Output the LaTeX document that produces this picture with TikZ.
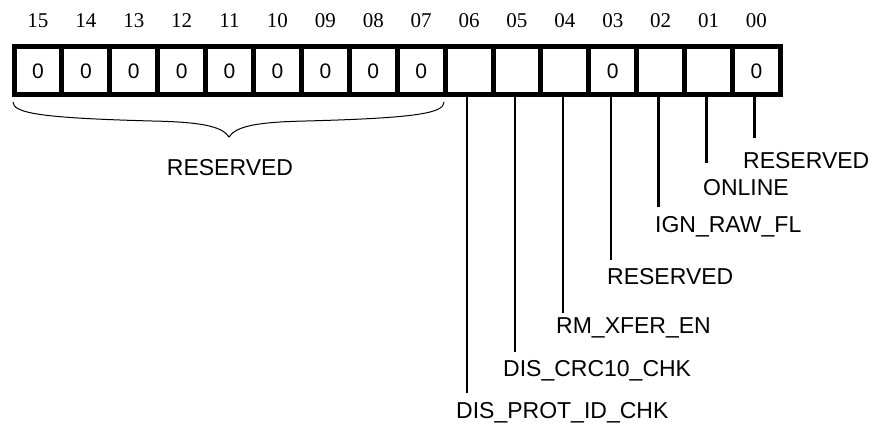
\documentclass[tikz,border=0pt]{standalone}
\usepackage{fontspec}
\setmainfont{Liberation Sans}
\newfontfamily\numfont{Liberation Serif}
\begin{document}
\begin{tikzpicture}[x=1pt,y=-1pt,
  cell/.style={draw,line width=5pt,minimum width=47.9pt,minimum height=48pt,inner sep=0pt,font=\fontsize{21}{24}\selectfont},
  bitnum/.style={inner sep=0pt,font=\numfont\fontsize{21}{24}\selectfont},
  fname/.style={inner sep=0pt,anchor=west,font=\fontsize{23}{26}\selectfont},
  lead/.style={line width=2.5pt},
  bracestyle/.style={line width=1pt}]
\useasboundingbox (0,0) rectangle (875,425);
\foreach \b/\v [count=\i from 0] in {15/0,14/0,13/0,12/0,11/0,10/0,09/0,08/0,07/0,06/{},05/{},04/{},03/0,02/{},01/{},00/0}{
  \node[cell] (c\b) at ({14+47.9*(\i+0.5)},71) {\v};
  \node[bitnum] (n\b) at ({14+47.9*(\i+0.5)},21) {\b};
}
% brace over reserved bits 15..07
\coordinate (bl) at (13,102);
\coordinate (br) at (444,102);
\coordinate (bt) at (229,137);
\draw[bracestyle] (bl) .. controls (13,113) and (40,118) .. (152,121)
  .. controls (200,122) and (222,126) .. (bt)
  .. controls (236,126) and (258,122) .. (306,121)
  .. controls (418,118) and (444,113) .. (br);
\node[inner sep=0pt,font=\fontsize{23}{26}\selectfont] (res) at (230,168) {RESERVED};
% field labels
\node[fname] (l06) at (456,413) {DIS\_PROT\_ID\_CHK};
\node[fname] (l05) at (503,371) {DIS\_CRC10\_CHK};
\node[fname] (l04) at (556,328) {RM\_XFER\_EN};
\node[fname] (l03) at (607,277) {RESERVED};
\node[fname] (l02) at (655,227) {IGN\_RAW\_FL};
\node[fname] (l01) at (703,188) {ONLINE};
\node[fname] (l00) at (743,161) {RESERVED};
\foreach \b/\y in {06/393,05/352,04/313,03/260,02/207,01/163,00/138}{
  \coordinate (e\b) at ([xshift=-2pt]c\b.south |- 0,\y);
  \draw[lead] ([xshift=-2pt]c\b.south) -- (e\b);
}
\end{tikzpicture}
\end{document}
